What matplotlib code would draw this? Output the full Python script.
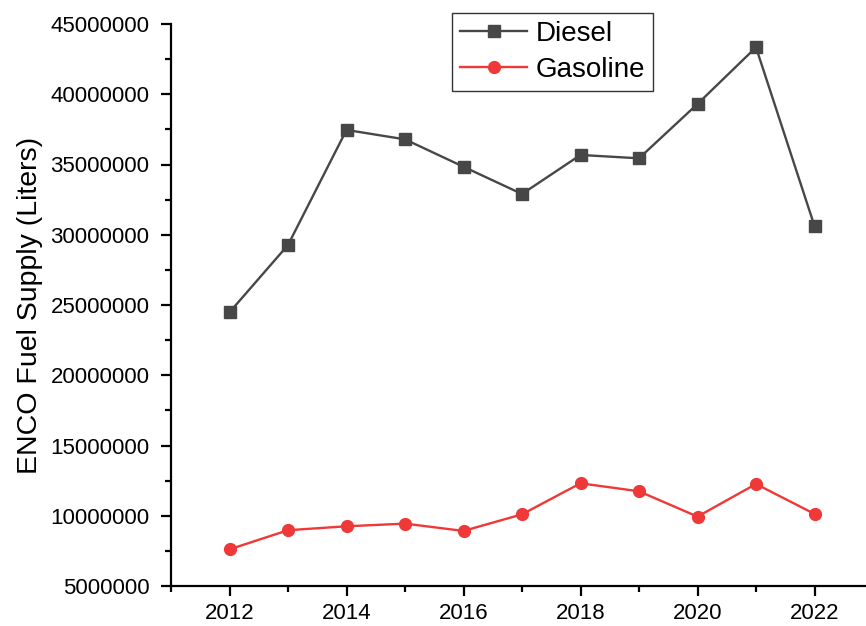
import matplotlib
matplotlib.use("Agg")
import matplotlib.pyplot as plt
from matplotlib.ticker import MultipleLocator

plt.rcParams['font.family'] = ['Liberation Sans', 'DejaVu Sans']

years = [2012, 2013, 2014, 2015, 2016, 2017, 2018, 2019, 2020, 2021, 2022]
diesel = [24480000, 29270000, 37460000, 36790000, 34840000, 32900000,
          35680000, 35440000, 39310000, 43340000, 30620000]
gasoline = [7610000, 8970000, 9250000, 9440000, 8920000, 10100000,
            12310000, 11740000, 9940000, 12260000, 10130000]

fig = plt.figure(figsize=(8.66, 6.26), dpi=100)
ax = fig.add_axes([171 / 866, 40 / 626, 695 / 866, 562 / 626])

ax.plot(years, diesel, color='#474747', lw=1.7, marker='s', ms=8,
        label='Diesel')
ax.plot(years, gasoline, color='#ef3838', lw=1.7, marker='o', ms=8.5,
        label='Gasoline')

ax.set_xlim(2011, 2011 + 695 / 58.5)
ax.set_ylim(5000000, 45000000)
ax.xaxis.set_major_locator(MultipleLocator(2))
ax.xaxis.set_minor_locator(MultipleLocator(1))
ax.yaxis.set_major_locator(MultipleLocator(5000000))
ax.yaxis.set_minor_locator(MultipleLocator(2500000))
ax.ticklabel_format(axis='y', style='plain', useOffset=False)

for side in ['top', 'right']:
    ax.spines[side].set_visible(False)
for side in ['left', 'bottom']:
    ax.spines[side].set_linewidth(1.6)

ax.tick_params(which='major', direction='out', length=7.5, width=1.6,
               labelsize=16)
ax.tick_params(axis='y', which='major', pad=8)
ax.tick_params(axis='x', which='major', pad=5)
ax.tick_params(which='minor', direction='out', length=4, width=1.6)

ax.set_ylabel('ENCO Fuel Supply (Liters)', fontsize=20.5, labelpad=5)

leg = ax.legend(loc='upper left', bbox_to_anchor=(281 / 695, 1.02),
                fontsize=20, frameon=True, fancybox=False,
                handlelength=2.4, handletextpad=0.3, borderpad=0.3,
                labelspacing=0.35, borderaxespad=0)
leg.get_frame().set_edgecolor('black')
leg.get_frame().set_linewidth(1.0)

fig.savefig('out.png', dpi=100)
